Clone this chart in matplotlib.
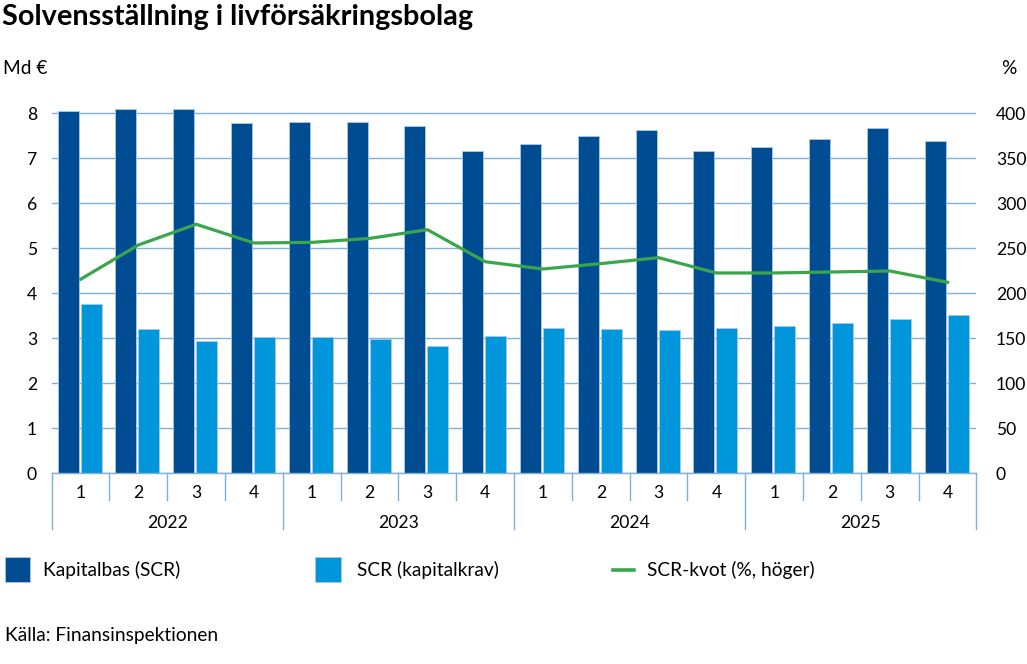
import matplotlib
matplotlib.use("Agg")
import matplotlib.pyplot as plt
from matplotlib.patches import Rectangle
from matplotlib.lines import Line2D
import numpy as np

# ---- data ----
years = ["2022", "2023", "2024", "2025"]
quarters = ["1", "2", "3", "4"]
kapitalbas = [8.05, 8.10, 8.10, 7.78, 7.81, 7.81, 7.71, 7.16,
              7.32, 7.50, 7.63, 7.17, 7.25, 7.43, 7.67, 7.38]
scr = [3.76, 3.21, 2.93, 3.04, 3.04, 2.98, 2.84, 3.05,
       3.22, 3.21, 3.19, 3.23, 3.27, 3.33, 3.44, 3.51]
kvot = [215.6, 253.7, 276.7, 255.9, 256.6, 261.0, 270.7, 235.1,
        227.0, 233.0, 239.6, 222.6, 222.6, 223.7, 224.8, 212.2]
series_labels = ["Kapitalbas (SCR)", "SCR (kapitalkrav)", "SCR-kvot (%, höger)"]
title = "Solvensställning i livförsäkringsbolag"
left_unit = "Md €"
right_unit = "%"
source = "Källa: Finansinspektionen"

# ---- style ----
DARK = "#004C93"
LIGHT = "#0096DB"
GREEN = "#3AA64C"
GRID = "#7DB1DA"
EDGE = "#A8CBE9"
FONT = "Lato"
plt.rcParams["font.family"] = [FONT, "DejaVu Sans"]
FS = 13.8
TFS = 12.6

W, H = 1027, 664
fig = plt.figure(figsize=(W / 100, H / 100), dpi=100)

def fx(px):
    return px / W

def fy(py):
    return 1 - py / H

left_px, right_px = 51.7, 976.5
base_px = 473.3
ppu = 45.0
ytop = 8.4
ax = fig.add_axes([fx(left_px), fy(base_px), fx(right_px - left_px), ytop * ppu / H])

n = len(kapitalbas)
x = np.arange(n)
catw = (right_px - left_px) / n
bw = 21 / catw
off_d = -12.5 / catw
off_l = 10.5 / catw

ax.bar(x + off_d, kapitalbas, width=bw, color=DARK, edgecolor=EDGE, linewidth=0.6, zorder=3)
ax.bar(x + off_l, scr, width=bw, color=LIGHT, edgecolor=EDGE, linewidth=0.6, zorder=3)
ax.set_xlim(-0.5, n - 0.5)
ax.set_ylim(0, ytop)
ax.set_yticks(range(0, 9))
ax.set_yticklabels([str(v) for v in range(0, 9)])
ax.yaxis.grid(True, color=GRID, linewidth=1.0, zorder=0)
ax.set_axisbelow(True)
for s in ["top", "right", "left"]:
    ax.spines[s].set_visible(False)
ax.spines["bottom"].set_color(GRID)
ax.spines["bottom"].set_linewidth(1.0)
ax.spines["bottom"].set_zorder(4)
ax.tick_params(axis="y", length=0, pad=10.6, labelsize=TFS, colors="black")
ax.set_xticks([])

ax2 = ax.twinx()
ax2.plot(x, kvot, color=GREEN, linewidth=2.3, zorder=5, solid_joinstyle="round")
ax2.set_ylim(0, ytop * 50)
ax2.set_yticks(range(0, 401, 50))
ax2.set_yticklabels([str(v) for v in range(0, 401, 50)])
for s in ["top", "right", "left", "bottom"]:
    ax2.spines[s].set_visible(False)
ax2.tick_params(axis="y", length=0, pad=14.0, labelsize=TFS, colors="black")

# ---- two-level category axis ----
tr = ax.get_xaxis_transform()
axh = ytop * ppu
q_end = -(500 - base_px) / axh
y_end = -(529 - base_px) / axh
q_lab = -(492.5 - base_px) / axh
y_lab = -(523.5 - base_px) / axh
for k in range(n + 1):
    xb = k - 0.5
    yend = y_end if k % 4 == 0 else q_end
    ax.add_line(Line2D([xb, xb], [0, yend], transform=tr, color=GRID, linewidth=1.0, clip_on=False))
for i in range(n):
    ax.text(i, q_lab, quarters[i % 4], transform=tr, ha="center", va="center", fontsize=TFS, clip_on=False)
for j, yr in enumerate(years):
    ax.text(j * 4 + 1.5, y_lab, yr, transform=tr, ha="center", va="center", fontsize=TFS, clip_on=False)

# ---- texts ----
fig.text(fx(2), fy(17), title, fontsize=20.8, fontweight="bold", ha="left", va="center")
fig.text(fx(3), fy(69), left_unit, fontsize=FS, ha="left", va="center")
fig.text(fx(1001), fy(68), right_unit, fontsize=FS, ha="left", va="center")
fig.text(fx(5), fy(635), source, fontsize=FS, ha="left", va="center")

# ---- legend ----
ly = 570
fig.patches.append(Rectangle((fx(5), fy(582)), fx(25), 25 / H, transform=fig.transFigure,
                             facecolor=DARK, edgecolor=EDGE, linewidth=0.6))
fig.text(fx(43), fy(ly), series_labels[0], fontsize=FS, ha="left", va="center")
fig.patches.append(Rectangle((fx(315), fy(582)), fx(26), 25 / H, transform=fig.transFigure,
                             facecolor=LIGHT, edgecolor=EDGE, linewidth=0.6))
fig.text(fx(357), fy(ly), series_labels[1], fontsize=FS, ha="left", va="center")
fig.lines.append(Line2D([fx(613), fx(634)], [fy(ly), fy(ly)], transform=fig.transFigure,
                        color=GREEN, linewidth=2.6))
fig.text(fx(647), fy(ly), series_labels[2], fontsize=FS, ha="left", va="center")

fig.savefig("out.png", dpi=100)
